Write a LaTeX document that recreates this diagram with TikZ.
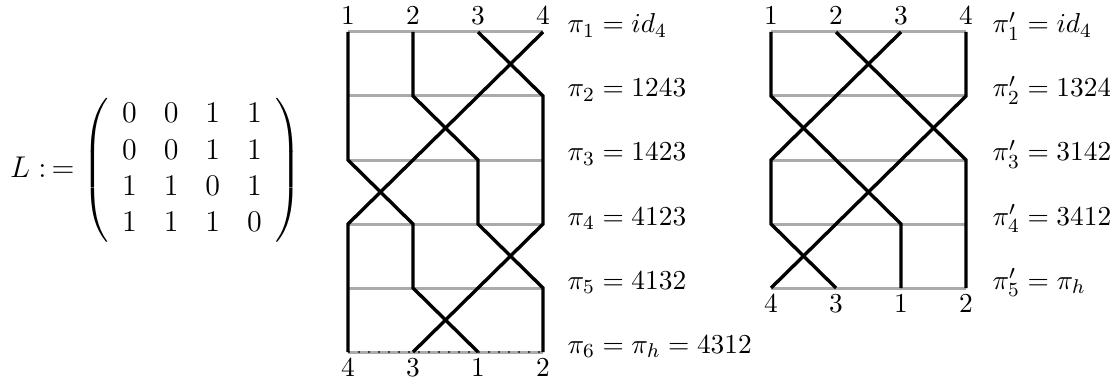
\documentclass[tikz,border=0pt]{standalone}
\usepackage{amsmath,amssymb}
\usepackage{tikz}
\usetikzlibrary{positioning}
\definecolor{rungGray}{RGB}{170,170,170}
\tikzset{
  rung/.style={rungGray, line width=1.2pt},
  strand/.style={black, line width=1.35pt, line join=miter},
  permlabel/.style={anchor=base west, inner sep=0pt},
  wirenum/.style={anchor=base, inner sep=0pt},
}

\begin{document}
\begin{tikzpicture}[x=0.4pt, y=-0.4pt, font=\fontsize{10.95}{13.6}\selectfont]
  \useasboundingbox (0,0) rectangle (1110,385);
  % the matrix L
  \node[anchor=base east, inner sep=0pt, font=\fontsize{12}{14.5}\selectfont]
    (Ldef) at (75,178) {$L :\,=$};
  \node[font=\fontsize{12}{14.5}\selectfont] (Lmat) at (192,170)
    {\setlength{\arraycolsep}{5.4pt}\renewcommand{\arraystretch}{1.0}%
     $\left(\begin{array}{cccc}
       0 & 0 & 1 & 1\\
       0 & 0 & 1 & 1\\
       1 & 1 & 0 & 1\\
       1 & 1 & 1 & 0
     \end{array}\right)$};
  % first wiring diagram
  \begin{scope}[shift={(348,32)}, x=26pt, y=-25.6pt]
    \foreach \r in {0,...,5} \draw[rung] (0,\r) -- (3,\r);
    \draw[black!75, line width=0.7pt, dash pattern=on 0.9pt off 3.1pt]
      (0,5) -- (3,5);
    \draw[strand] (0,0) -- (0,1) -- (0,2) -- (1,3) -- (1,4) -- (2,5);
    \draw[strand] (1,0) -- (1,1) -- (2,2) -- (2,3) -- (3,4) -- (3,5);
    \draw[strand] (2,0) -- (3,1) -- (3,2) -- (3,3) -- (2,4) -- (1,5);
    \draw[strand] (3,0) -- (2,1) -- (1,2) -- (0,3) -- (0,4) -- (0,5);
    \foreach \i in {1,...,4} \node[wirenum] (ta\i) at (\i-1,-0.11) {$\i$};
    \foreach \c/\v in {0/4,1/3,2/1,3/2} \node[wirenum] (ba\v) at (\c,5.39) {$\v$};
  \end{scope}
  \node[permlabel] (pa1) at (567,33)  {$\pi_1 = id_4$};
  \node[permlabel] (pa2) at (567,97)  {$\pi_2 = 1243$};
  \node[permlabel] (pa3) at (567,161) {$\pi_3 = 1423$};
  \node[permlabel] (pa4) at (567,225) {$\pi_4 = 4123$};
  \node[permlabel] (pa5) at (567,289) {$\pi_5 = 4132$};
  \node[permlabel] (pa6) at (567,353) {$\pi_6 = \pi_h = 4312$};
  % second wiring diagram
  \begin{scope}[shift={(771,32)}, x=26pt, y=-25.6pt]
    \foreach \r in {0,...,4} \draw[rung] (0,\r) -- (3,\r);
    \draw[strand] (0,0) -- (0,1) -- (1,2) -- (2,3) -- (2,4);
    \draw[strand] (1,0) -- (2,1) -- (3,2) -- (3,3) -- (3,4);
    \draw[strand] (2,0) -- (1,1) -- (0,2) -- (0,3) -- (1,4);
    \draw[strand] (3,0) -- (3,1) -- (2,2) -- (1,3) -- (0,4);
    \foreach \i in {1,...,4} \node[wirenum] (tb\i) at (\i-1,-0.11) {$\i$};
    \foreach \c/\v in {0/4,1/3,2/1,3/2} \node[wirenum] (bb\v) at (\c,4.39) {$\v$};
  \end{scope}
  \node[permlabel] (pb1) at (992,33)  {$\pi'_1 = id_4$};
  \node[permlabel] (pb2) at (992,97)  {$\pi'_2 = 1324$};
  \node[permlabel] (pb3) at (992,161) {$\pi'_3 = 3142$};
  \node[permlabel] (pb4) at (992,225) {$\pi'_4 = 3412$};
  \node[permlabel] (pb5) at (992,289) {$\pi'_5 = \pi_h$};
\end{tikzpicture}
\end{document}
